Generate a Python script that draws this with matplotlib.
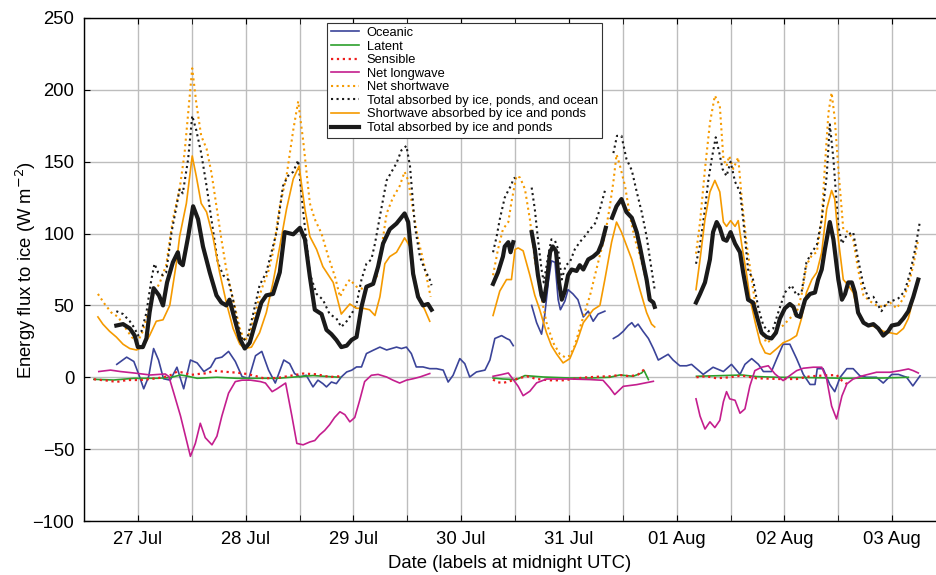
import numpy as np
import matplotlib
matplotlib.use("Agg")
import matplotlib.pyplot as plt

nan = np.nan
plt.rcParams['font.family'] = ['Liberation Sans', 'DejaVu Sans']

# time in hours after 27 Jul 00:00 UTC, values in W m-2 (nan = gap)
ocean_h = [-4.7,-2.5,-0.9,0.2,1.3,2.4,3.5,4.6,5.7,7.2,8.7,10.2,11.7,13.2,14.7,16.2,17.3,18.7,20.2,21.7,
           23.2,24.7,26.2,27.6,29.1,30.6,32.5,33.8,34.9,36.1,37.5,39,40.1,41.2,42,43.1,44.2,45.3,46.5,47.6,
           48.7,49.8,50.9,52.4,53.9,55.4,56.5,57.6,58.7,59.8,60.9,62,63.5,65,66.5,68,69.1,70.2,71.7,72.8,
           73.9,75.4,77.3,78.4,79.5,81,82.1,82.8,83.6, nan,
           87.7,88.8,89.9,90.6,91.4,92.1,92.9,93.6,94.1,95.1,95.8,96.9,98,99.2,100.3,101.4,102.5,104, nan,
           105.9,107,108.1,109.2,110,110.7,111.4,112.5,113.7,114.8,115.9,117,118.1,119.2,120.7,122.2,123.3,
           124.8,125.9,128.1,130.4,132.2,134.1,135.2,136.7,138.2,139.3,141.1,142.3,143.7,145.2,146.7,148.2,
           149.7,150.8,151.3,152.6,154.1,155.2,156.4,157.9,159.3,160.8,162.3,164.5,166,167.9,169.4,171.2,
           172.6,174.2]
ocean_v = [9,14,11,2,-8,0.5,20,12,-1,-2,7,-8,12,10,4,7,13,14,18,11,
           0.5,-1,15,18,5,-4,12,9.5,2.6,0.2,1.4,-6.7,-2,-4.4,-6.7,-3.3,-4.4,0.2,3.7,4.9,
           7.2,7.2,16.5,18.8,21,19,20,21,20,21,16.5,7.2,7.2,6,6,5,-3.3,1.4,13,9.5,
           0.2,3.7,5,12,27,29,27,26,22, nan,
           50,38,30,43,66,81,80,54,47,53,61,58,54,42,46,39,44,46, nan,
           27,29,32,36,38,35,37,32,27,20,12,14,16,12,8,8,9,
           5,2,7,4,9,2,9,13,9,4,4,13,23,23,13,2,
           -5,-5,6,6,-5,-10,0,6,6,1,0,0,-4,2,2,0,
           -6,1]

latent_h = [-9.8,-5.4,-0.9,4.3,7.2,9.5,10.9,13.2,17.6,22.1,26.5,31,36.2,39,45, nan,
            79.1,81.3,84.3,86.2,90.3,96.2,100.7,105.1,107.3,110.3,112.2,112.7,113.7, nan,
            124.4,130.4,134.5,137.8,142.3,148.9,157.9,166,171.6]
latent_v = [-1.4,-1.9,-0.7,-0.7,-0.2,1.6,0.9,-0.7,0,-0.7,-0.7,-0.7,0.5,1.2,0, nan,
            -0.5,-1.2,-1.6,1.2,0.2,-0.5,-0.5,0,1.6,0.7,3,4.9,-1.6, nan,
            0.7,1.2,1.6,0.5,0,-0.2,-0.7,-0.5,0]

sensible_h = [-9.8,-6.9,-4.7,-2.4,0.6,4.3,6.9,8.7,10.2,11.7,13.5,15.4,16.9,19.1,22.1,24.3,26.2,28,31,34.6,
              36.8,39.8,42.7,45, nan,
              79.1,80.2,81.3,82.8,84.3,86.6,88.8,91.8,94.7,96.9,99.2,102.9,105.1,107.3,109.6,111.4,112.7, nan,
              124.4,126.6,128.9,131.8,134.5,137.8,143,146.7,149.7,152.6,155.6,156.8,157.9]
sensible_v = [-1.4,-2.3,-3.2,-1.9,-1.9,-0.7,0.9,3.9,3.2,1.6,2.3,2.8,4.6,3.9,3.2,2.3,0.9,-0.7,-0.5,1.4,
              2.6,2.1,0.2,0.7, nan,
              -1.6,-3.5,-3.9,-2.8,-1.2,0.7,-1.2,-2.1,-2.1,-1.2,-0.2,0.5,0.7,1.6,0.7,1.9,5.3, nan,
              0,0.7,-0.7,0,1.2,-0.7,-1.2,-1.2,0.7,1.2,1.6,-2.3,-4.6]

lw_h = [-8.7,-6.1,-3.9,-0.9,2.8,6.1,6.9,8,9.5,10.6,11.7,12.8,13.9,15,16.5,17.6,18.7,20.2,21.7,23.2,
        25.1,27.3,28.4,29.9,31,32.9,34.3,35.4,36.8,38.3,39.4,40.5,41.6,42.7,43.8,45,46.1,47.2,48.3,49.4,
        50.5,52,53.5,55.4,56.8,58.3,59.8,61.3,62.8,65, nan,
        79.1,81,82.5,83.6,84.7,85.8,87.3,88.8,91,96.2,100.7,103.6,105.1,106.2,108.1,111.1,114.8, nan,
        124.3,125.2,126.3,127.4,128.5,129.6,130.4,131.1,131.8,133,134.1,135.2,136.3,137.4,138.9,140.4,
        141.9,143.7,145.2,146.7,148.2,150.4,152.3,153.4,154.5,155.6,156.8,157.9,159.3,161.6,164.5,167.5,
        169.7,171.6,172.7,173.8]
lw_v = [4,5,4,3,1.6,2.3,0.5,-11,-27,-41,-55,-46,-32,-42,-47,-41,-27,-11,-3,-2,
        -2,-3,-4,-10,-8,-4,-27,-46,-47,-45,-44,-40,-37,-33,-28,-24,-26,-31,-28,-16,
        -3,1.4,2,0.2,-2,-4,-2,-1,0.2,2.6, nan,
        0.7,1.9,3,-1.6,-6.3,-12.8,-9.7,-3.9,-1.2,-1.2,-1.6,-2.1,-7.4,-12,-6.3,-5.1,-2.8, nan,
        -15,-27,-36,-31,-35,-30,-17,-10,-15,-16,-25,-22,-6,4.6,7,8,
        2.3,-2.3,1.2,4.6,6.3,7,7,-1.2,-20,-29,-13,-4.6,-1.2,1.2,3.5,3.5,
        4.6,5.8,4.6,3]

sw_h = [-8.9,-7.4,-5.9,-4.4,-2.9,-1.4,0,1.1,2.3,3.4,4.9,6.3,7.8,9.3,10.4,11.4,12.1,13,14.1,15.3,
        16.4,17.5,18.6,19.7,21.2,22.7,23.8,24.9,26,27.5,29,30.1,31.6,33.1,34.6,35.7,36.8,38.3,39.4,40.9,
        42.4,43.9,45,46.1,47.2,48.7,50.5,52,53.1,54.3,55.4,56.8,58.3,59.4,60.2,61.3,62.4,63.5,64.6,65.2, nan,
        79.1,80.2,81.3,82.5,83.2,84.3,85.1,86.2,87.3,88.4,89.5,91,92.5,94,95.1,96.2,97.3,98.4,99.5,100.7,
        101.8,102.9,104,105.1,105.9,106.6,107.3,108.5,109.6,110.7,111.8,112.9,114,114.8, nan,
        124.3,125.2,126.3,127.4,128.5,129.6,130.4,131.1,131.7,132.6,133.7,134.5,135.6,136.7,137.8,138.9,
        140,141.1,142.3,143.7,145.2,146.7,147.8,148.9,150.1,151.2,152.3,153,153.8,154.5,155.2,156,157.1,
        158.2,159.3,160.4,161.6,163,164.5,166,167.5,169,170.5,171.6,172.7,173.8]
sw_v = [58,51,45,42,35,28,25,32,45,57,66,78,110,131,156,191,215,191,168,159,
        142,119,96,75,54,34,25,31,43,61,73,87,119,140,172,192,165,121,110,100,
        84,70,56,63,68,63,61,64,68,91,114,125,133,143,137,116,96,82,65,56, nan,
        71,89,103,108,122,140,139,131,110,82,61,38,24,16,14,15,22,34,45,57,
        71,85,98,119,136,155,148,133,112,96,85,71,57,50, nan,
        86,108,145,177,196,189,152,147,154,145,153,124,92,68,45,31,
        24,26,34,36,41,45,57,78,85,87,110,147,184,198,180,145,103,
        101,96,75,57,53,50,49,52,48,55,64,78,96]

tot_ocean_h = [-4.8,-3.3,-1.8,-0.7,0,0.8,1.9,3,3.7,4.5,5.6,6.3,7.5,8.6,9.3,10,11.2,12.1,13,14.1,
               15.3,16.7,17.8,19,20.1,21.2,22.3,23.4,24.5,25.6,27.1,28.6,30.9,32.3,33.4,34.6,35.7,36.8,38.3,39.8,
               41.2,42.7,44.2,45.3,46.5,47.6,48.7,49.8,50.9,52,52.8,53.9,55.4,56.5,57.6,58.7,59.8,60.6,61.7,62.8,
               63.9,65,65.4, nan,
               79.1,79.9,80.6,81.7,82.5,83.2,83.6,84, nan,
               87.7,88.4,89.1,89.9,90.4,91.4,92.1,92.9,93.6,94.4,95.3,96.2,97.3,98.4,99.5,100.7,101.8,102.9,104.2, nan,
               105.9,106.7,107.7,108.8,110,111.1,112.2,113.3,114.4,115.1, nan,
               124.3,125.2,126.3,127,127.8,128.7,129.5,130.2,131.1,132,133,134.1,134.8,135.9,137,138.2,139.3,
               140.4,141.5,142.6,144.1,145.6,146.7,147.8,148.9,150.1,151.2,152.3,153.4,154.1,154.9,156,156.8,
               157.9,159.3,160.4,161.6,162.7,163.8,165.6,166.8,167.9,169.4,170.8,172,173.1,174.2]
tot_ocean_v = [46,44,39,34,29,32,45,68,79,73,71,73,101,119,131,128,152,182,172,156,
               133,103,80,71,68,54,36,25,29,43,64,73,101,133,140,143,151,116,72,58,
               54,44,41,35,39,44,51,68,79,82,93,112,137,143,149,158,161,147,105,84,
               75,68,64, nan,
               87,98,110,125,130,134,138,139, nan,
               132,117,96,75,66,85,96,95,89,68,78,80,89,94,98,103,107,117,132, nan,
               156,168,168,152,144,129,115,98,75,61, nan,
               79,92,117,136,152,167,156,145,140,150,136,129,110,75,68,48,36,
               32,34,45,59,64,57,59,80,87,92,110,140,176,152,105,93,
               99,101,82,64,55,56,46,52,53,55,60,73,89,109]

sw_abs_h = [-8.9,-7.8,-6.3,-4.8,-3.3,-1.8,-0.3,1.1,2.6,4.1,5.6,7.1,8.6,9.3,10.8,12.1,13,14.1,15.3,16.7,
            18.2,19.7,21.2,22.7,23.8,25.3,27.1,28.6,30.1,31.6,33.1,34.6,35.9,37.2,38.3,39.8,41.2,43.5,45.3,47.2,
            48.7,50.2,51.6,52.8,53.9,55,56.1,57.6,58.7,59.4,60.6,61.7,62.8,63.9,65, nan,
            79.1,80.6,82.1,83.2,84,84.7,85.8,87.3,88.4,89.5,91,92.1,93.3,94.7,96.2,97.7,99.2,101.4,102.9,104,
            105.5,106.6,107.7,108.8,110,111.8,113.3,114.4,115.1, nan,
            124.3,125.2,126.3,127.4,128.5,129.6,130.4,131.1,132,133,133.7,134.5,135.6,136.3,137.5,138.6,
            139.7,140.8,142.3,143.7,145.2,146.7,147.8,148.9,150.1,151.2,152.3,153.4,154.5,155.2,156,157.1,
            158.2,159.3,160.4,161.6,163,164.5,166,167.5,169,170.5,171.6,172.7,173.8]
sw_abs_v = [42,37,32,28,23,20,19,21,29,39,40,50,80,98,121,154,140,121,115,98,
            73,52,34,23,20,21,31,45,66,91,117,138,147,117,98,89,77,66,44,51,
            48,48,47,43,56,79,84,87,93,97,91,68,54,47,39, nan,
            43,60,68,68,89,90,88,71,57,47,31,22,16,10,13,24,38,47,50,68,
            94,108,101,92,82,61,45,37,35, nan,
            61,82,110,129,137,129,108,105,109,105,109,92,71,55,38,24,
            17,16,20,24,26,29,41,59,68,73,87,117,130,124,96,68,
            64,59,45,38,36,35,32,31,30,34,41,55,66]

tot_ice_h = [-4.8,-3.3,-1.8,-0.7,0,1.1,1.9,2.6,3.5,4.7,5.6,6.5,7.8,8.9,9.3,10,11.2,12.3,13.4,14.5,
             16,17.5,18.6,19.7,20.4,21.6,22.7,23.8,24.9,26,27.5,28.6,30.1,31.6,32.7,34.6,36.1,37.2,38.3,39.4,
             40.9,42,43.1,44.2,45.3,46.5,47.6,48.7,49.8,50.9,52.4,53.5,54.6,56.1,57.6,59.4,60.2,61.3,62.4,63.5,
             64.6,65.4, nan,
             79.1,80.2,81.3,81.7,82.5,83,83.6, nan,
             87.7,88.4,89.1,89.9,90.4,91,91.8,92.4,93.1,93.8,94.4,95.1,95.8,96.6,97.7,98.4,99.2,100.3,101.4,
             102.5,103.3,104.2, nan,
             105.6,106.6,107.7,108.8,110,111.1,111.8,112.5,113.3,114,114.8,115.1, nan,
             124.3,125.2,126.3,127.4,128.1,128.9,129.6,130.4,131.1,132,133,134.1,134.8,135.9,137,137.8,138.9,
             140,141.1,142.1,143,144.1,145.2,146,146.7,147.5,148.6,149.7,150.8,151.5,152.3,153,154.1,154.9,
             156,156.8,157.5,158.2,159,159.7,160.4,161.6,162.7,163.8,164.9,166,167.1,167.9,169.4,170.5,171.6,
             172.7,173.8]
tot_ice_v = [36,37,34,29,21,21,27,45,62,57,50,66,80,87,80,78,98,119,110,91,
             73,57,52,50,54,40,27,20,24,36,52,57,58,73,101,99.5,104,96,70,47,
             44,33,30,26,21,22,26,28,49,63,65,77,93,103,107,114,108,72,56,50,
             51,47, nan,
             65,73,84,91,94,87,94, nan,
             101,89,71,57,53,64,87,91,88,66,54,60,71,75,74,78,75,82,84,
             87,93,104, nan,
             111,119,124,115,111,101,91,80,68,54,52,49, nan,
             52,58,66,82,101,108,104,96,95,101,93,87,73,54,52,43,31,
             28,27,31,41,48,51,49,43,42,54,58,59,68,75,89,108,96,
             68,54,58,66,66,59,45,38,36,37,34,29,32,36,37,41,46,
             56,68]

day_ticks = [0, 24, 48, 72, 96, 120, 144, 168]
day_labels = ['27 Jul', '28 Jul', '29 Jul', '30 Jul', '31 Jul', '01 Aug', '02 Aug', '03 Aug']

orange = '#f59a00'
fig = plt.figure(figsize=(9.36, 5.75), dpi=100)
ax = fig.add_axes([84/936, 54/575, 852/936, 503/575])

ax.plot(ocean_h, ocean_v, color='#3b4499', lw=1.2, label='Oceanic')
ax.plot(latent_h, latent_v, color='#2ca02c', lw=1.2, label='Latent')
ax.plot(sensible_h, sensible_v, color='#ee1c1c', lw=1.6, ls=':', label='Sensible')
ax.plot(lw_h, lw_v, color='#c41e8e', lw=1.2, label='Net longwave')
ax.plot(sw_h, sw_v, color=orange, lw=1.5, ls=':', label='Net shortwave')
ax.plot(tot_ocean_h, tot_ocean_v, color='#1a1a1a', lw=1.5, ls=':',
        label='Total absorbed by ice, ponds, and ocean')
ax.plot(sw_abs_h, sw_abs_v, color=orange, lw=1.2, label='Shortwave absorbed by ice and ponds')
ax.plot(tot_ice_h, tot_ice_v, color='#1a1a1a', lw=3.0, label='Total absorbed by ice and ponds')

ax.set_xlim(-12, 177.75)
ax.set_ylim(-100, 250)
ax.set_yticks(np.arange(-100, 251, 50))
ax.set_xticks(day_ticks)
ax.set_xticklabels(day_labels)
ax.set_xticks(np.arange(-12, 177, 24), minor=True)
ax.grid(True, which='both', color='#bdbdbd', lw=1.0)
ax.set_axisbelow(True)
ax.tick_params(which='both', direction='in', top=True, right=False, length=4,
               labelsize=13.3, pad=7)
ax.spines['right'].set_visible(False)
for s in ['left', 'bottom', 'top']:
    ax.spines[s].set_linewidth(1.0)

ax.set_xlabel('Date (labels at midnight UTC)', fontsize=13.3, labelpad=5)
ax.set_ylabel('Energy flux to ice (W m$^{-2}$)', fontsize=13.3, labelpad=-4)

leg = ax.legend(loc='upper left', bbox_to_anchor=(0.285, 0.99), fontsize=9.3,
                frameon=True, fancybox=False, edgecolor='#333333', framealpha=1,
                borderpad=0.3, labelspacing=0.12, handlelength=2.2, handletextpad=0.6,
                borderaxespad=0)
leg.get_frame().set_linewidth(0.8)

fig.savefig('out.png', dpi=100)
